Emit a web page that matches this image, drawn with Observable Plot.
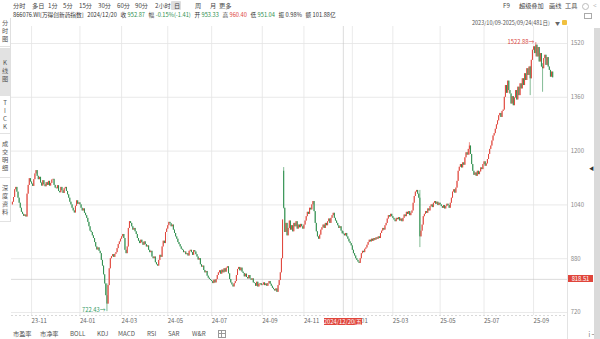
<!DOCTYPE html>
<html><head><meta charset="utf-8">
<script src="https://cdn.jsdelivr.net/npm/d3@7"></script>
<script src="https://cdn.jsdelivr.net/npm/@observablehq/plot@0.6"></script>
<style>
body{margin:0;background:#fff;font-family:"Noto Sans CJK SC","Noto Sans",sans-serif;}
#wrap{position:relative;width:600px;height:339px;overflow:hidden;background:#fff;}
#chart{position:absolute;left:0;top:0;}
.t{position:absolute;white-space:nowrap;font-size:6.2px;line-height:8px;color:#444;}
#row2{position:absolute;left:13px;top:10.5px;white-space:nowrap;font-size:5.7px;line-height:8px;color:#333;}
#row2 span{margin-right:3.6px}
#row2 b{font-weight:normal;margin-right:1.4px}
.g{color:#2f8f4e}.r{color:#e0463c}
.tab{position:absolute;left:0;width:10px;font-size:6.2px;color:#555;writing-mode:vertical-rl;text-orientation:upright;display:flex;align-items:center;justify-content:center;letter-spacing:1.5px;border-bottom:1px solid #e2e2e2;}
.box{position:absolute;background:#e0463c;color:#fff;font-size:5.8px;line-height:7px;text-align:center;white-space:nowrap;}
</style></head><body>
<div id="wrap"><div id="chart"></div></div>
<script>
// ---- data (daily closes of 866076.WI, 2023/10/09 - 2025/09/24, 481 trading days) ----
const firstOpen = 1040;
const close = [
// 2023-10
1048,1062,1085,1092,1078,1060,1045,1030,1018,1012,1006,1010,1004,1072,1098,1118,1108,
// 2023-11
1102,1095,1115,1132,1142,1125,1115,1122,1105,1096,1112,1100,1094,1106,1098,1110,1096,1104,1114,1116,1098,1090,
// 2023-12
1088,1097,1080,1076,1092,1082,1074,1088,1092,1080,1070,1060,1048,1040,1030,1022,1016,1036,1052,1042,1046,
// 2024-01
1040,1030,1022,1028,1015,1008,1000,988,975,962,958,948,940,928,915,906,912,902,895,875,858,832,
// 2024-02
805,770,745,800,850,880,886,892,884,893,898,910,922,930,938,
// 2024-03
945,952,940,905,895,915,970,990,985,975,965,970,960,952,940,932,925,935,928,920,930,
// 2024-04
922,915,918,905,898,902,885,880,885,868,862,858,875,890,884,915,932,925,958,968,
// 2024-05
978,988,984,975,980,965,955,945,938,928,922,915,908,905,898,900,892,895,888,902,
// 2024-06
905,898,890,904,900,892,885,876,880,862,855,858,845,838,842,828,822,818,815,
// 2024-07
812,806,816,808,818,830,838,844,834,846,838,850,840,852,856,835,818,808,802,796,806,812,830,
// 2024-08
848,854,844,852,840,836,826,834,824,820,830,820,816,820,808,806,798,810,796,804,806,800,
// 2024-09
802,808,800,805,798,806,812,804,798,792,788,784,790,780,800,815,838,880,995,
// 2024-10
1030,958,985,948,970,992,965,978,960,985,975,990,968,980,972,982,975,968,
// 2024-11
980,992,1005,1018,1012,1030,1025,1040,1050,1020,985,960,945,938,950,965,972,980,970,985,978,
// 2024-12
990,998,985,1000,1008,1015,1000,992,985,978,970,975,962,954,952.87,948,955,945,938,930,925,918,
// 2025-01
905,895,888,880,875,870,866,880,895,902,898,908,912,920,928,935,930,938,
// 2025-02
932,940,935,942,938,945,940,955,962,970,965,978,985,998,1008,1004,1012,1005,
// 2025-03
1000,995,990,1000,996,1002,992,998,990,1000,1010,1005,1018,1012,1020,1008,1015,1022,1045,1065,1078,
// 2025-04
1083,1072,1060,945,962,980,1005,1012,1020,1015,1028,1022,1035,1040,1032,1045,1050,1042,1048,1038,1045,
// 2025-05
1040,1035,1030,1038,1028,1035,1042,1038,1030,1045,1060,1078,1085,1075,1090,1110,1140,1152,1160,
// 2025-06
1150,1165,1158,1180,1195,1188,1205,1215,1190,1160,1140,1128,1135,1125,1140,1130,1138,1150,1145,1160,
// 2025-07
1168,1155,1162,1175,1190,1205,1215,1230,1245,1252,1265,1278,1290,1305,1312,1300,1318,1322,1360,1395,1372,1408,1380,
// 2025-08
1370,1340,1362,1335,1358,1380,1352,1390,1365,1400,1385,1415,1395,1430,1410,1445,1425,1450,1415,1470,1500,
// 2025-09
1510,1490,1515,1480,1508,1465,1490,1450,1445,1475,1485,1455,1478,1450,1440,1420,1435,1418
];
const gapDays = [241, 294];
const gapOpens = [1140, 953.33];
const wickDays  = [84, 241, 294, 362, 406, 460, 465, 471];
const wickHighs = [805, 1151, 960.40, 1083, 1225, 1452, 1522.88, 1460];
const wickLows  = [722.43, 1028, 951.04, 913, 1188, 1365, 1480, 1375];
const monthIdx = [17,60,97,138,177,222,259,302,338,380,419,463];
const monthLabels = ["23-11","24-01","24-03","24-05","24-07","24-09","24-11","25-01","25-03","25-05","25-07","25-09"];
const yTicks = [720,880,1040,1200,1360,1520];
const crossDay = 294, crossDate = "2024/12/20(五)", crossPrice = 818.51;
const maxDay = 465, maxPrice = 1522.88, minDay = 84, minPrice = 722.43;

const rows = close.map((c, i) => {
  const g = gapDays.indexOf(i);
  const o = g >= 0 ? gapOpens[g] : (i === 0 ? firstOpen : close[i - 1]);
  let h = Math.max(o, c), l = Math.min(o, c);
  const w = wickDays.indexOf(i);
  if (w >= 0) { h = Math.max(h, wickHighs[w]); l = Math.min(l, wickLows[w]); }
  return {i, o, c, h, l, up: c >= o};
});

const W = 600, H = 339, mL = 11.9, mR = 47.8, mT = 43, mB = 27;
const N = close.length;
const pxToX = px => (px - mL) / (W - mL - mR) * (N - 1);
const pxToY = py => 720 + (H - mB - py) / (H - mB - mT) * 800;
const xL = pxToX(11), xR = pxToX(567), yTop = pxToY(26), yBot = pxToY(315);
const UP = "#e0463c", DN = "#2f8f4e";

const chart = Plot.plot({
  width: W, height: H, marginLeft: mL, marginRight: mR, marginTop: mT, marginBottom: mB,
  x: {domain: [0, N - 1]},
  y: {domain: [720, 1520]},
  style: {fontFamily: "'Noto Sans CJK SC','Noto Sans',sans-serif", background: "transparent"},
  marks: [
    Plot.ruleY(yTicks, {x1: xL, x2: xR, stroke: "#e4e4e4", strokeWidth: 0.8}),
    Plot.ruleX(monthIdx, {y1: yTop, y2: yBot, stroke: "#e4e4e4", strokeWidth: 0.8}),
    Plot.ruleY([yBot], {x1: xL, x2: xR, stroke: "#cfcfcf", strokeWidth: 0.8, strokeDasharray: "2,2"}),
    Plot.ruleX([xR], {y1: yTop, y2: pxToY(339), stroke: "#dcdcdc", strokeWidth: 0.8}),
    Plot.ruleX([crossDay], {y1: yTop, y2: yBot, stroke: "#c4c4c4", strokeWidth: 0.6}),
    Plot.ruleY([crossPrice], {x1: xL, x2: xR, stroke: "#c4c4c4", strokeWidth: 0.6}),
    Plot.ruleX(rows, {x: "i", y1: "l", y2: "h", stroke: d => d.up ? UP : DN, strokeWidth: 0.6}),
    Plot.ruleX(rows, {x: "i", y1: "o", y2: "c", stroke: d => d.up ? UP : DN, strokeWidth: 1}),
    Plot.text([maxPrice], {x: maxDay, y: d => d, text: d => d.toFixed(2) + "→", textAnchor: "end", dx: -1.5, fill: "#d9483e", fontSize: 5.8}),
    Plot.text([minPrice], {x: minDay, y: d => d, text: d => d.toFixed(2) + "→", textAnchor: "end", dx: -1.5, dy: -2, fill: "#2f9a5e", fontSize: 5.8}),
    Plot.axisY(yTicks, {anchor: "right", tickSize: 0, tickPadding: 18, fontSize: 6, fill: "#8a8a8a", tickFormat: d => String(d)}),
    Plot.axisX(monthIdx, {anchor: "bottom", tickSize: 0, tickPadding: 6.5, textAnchor: "start", fontSize: 6, fill: "#666", tickFormat: d => monthLabels[monthIdx.indexOf(d)]})
  ]
});
document.getElementById("chart").appendChild(chart);
const sx = chart.scale("x"), sy = chart.scale("y");
const wrap = document.getElementById("wrap");
function add(html){ wrap.insertAdjacentHTML("beforeend", html); }

// crosshair labels
const cx = sx.apply(crossDay);
add(`<div class="box" style="left:${cx-19}px;top:318px;width:38px;height:7px">${crossDate}</div>`);
const cy = sy.apply(crossPrice);
add(`<div class="box" style="left:568px;top:${cy-3.5}px;width:25px;height:7px">${crossPrice.toFixed(2)}</div>`);

// top toolbar
const tools = [["分时",13],["多日",32],["1分",48],["5分",63],["15分",79],["30分",98],["60分",117],["90分",135],["2小时",155],["日",174],["周",195],["月",210],["更多",219]];
add(`<div style="position:absolute;left:171px;top:1px;width:10px;height:9px;background:#dedede;border-radius:1px"></div>`);
tools.forEach(([t,x]) => add(`<div class="t" style="left:${x}px;top:1.5px">${t}</div>`));
[["F9",503],["超级叠加",519],["画线",549],["工具",565]].forEach(([t,x]) => add(`<div class="t" style="left:${x}px;top:1.5px">${t}</div>`));
add(`<div style="position:absolute;left:582px;top:2.5px;width:5px;height:5px;border:0.8px solid #bbb;border-radius:50%"></div>`);
add(`<div class="t" style="left:593px;top:1.5px;color:#999">&lt;</div>`);
add(`<div style="position:absolute;left:584px;top:13px;width:6px;height:4px;border:0.8px solid #aaa"></div>`);

// info row
add(`<div id="row2"><span>866076.WI[万得创新药指数]</span><span>2024/12/20</span><b>收</b><span class="g">952.87</span><b>幅</b><span class="g">-0.15%(-1.41)</span><b>开</b><span class="g">953.33</span><b>高</b><span class="r">960.40</span><b>低</b><span class="g">951.04</span><b>振</b><span>0.98%</span><b>额</b><span>101.88亿</span></div>`);
add(`<div class="t" style="left:472px;top:19px;font-size:5.5px;color:#555">2023/10/09-2025/09/24(481日)</div>`);
add(`<div class="t" style="left:555px;top:19px;font-size:5px;color:#666">▼</div>`);
add(`<div style="position:absolute;left:562px;top:20px;width:5px;height:5px;background:#f0c040;border-radius:1px"></div>`);

// left sidebar
const tabs = [["分时图",18,28,false],["K线图",48,47,true],["TICK",97,36,false],["成交明细",135,42,false],["深度资料",179,42,false]];
tabs.forEach(([t,y,h,sel]) => add(`<div class="tab" style="top:${y}px;height:${h}px;${sel?'background:#e2e2e2;':''}">${t}</div>`));
add(`<div style="position:absolute;left:10px;top:18px;width:0.8px;height:204px;background:#e0e0e0"></div>`);

// right scrollbar
add(`<div style="position:absolute;left:594px;top:28px;width:6px;height:311px;background:#dadada"></div>`);
add(`<div class="t" style="left:589px;top:164px;font-size:5px;color:#333">◀</div>`);

// bottom indicator bar
[["市盈率",13],["市净率",40],["BOLL",70],["KDJ",97],["MACD",118],["RSI",147],["SAR",168],["W&amp;R",192]].forEach(([t,x]) => add(`<div class="t" style="left:${x}px;top:329.5px;color:#555">${t}</div>`));
add(`<div style="position:absolute;left:218px;top:330px;width:6px;height:6px;border:0.8px solid #999"></div>`);
add(`<div style="position:absolute;left:221px;top:330px;width:0.8px;height:6.8px;background:#999"></div>`);
add(`<div style="position:absolute;left:218px;top:333px;width:6.8px;height:0.8px;background:#999"></div>`);
</script>
</body></html>
